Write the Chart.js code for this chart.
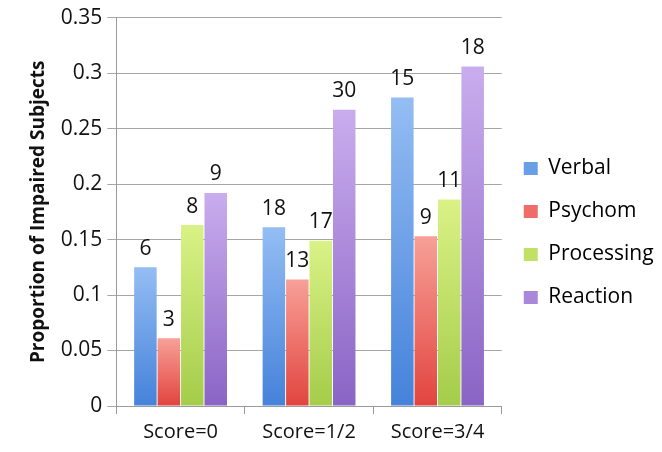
<!DOCTYPE html>
<html>
<head>
<meta charset="utf-8">
<script src="https://cdn.jsdelivr.net/npm/chart.js@4/dist/chart.umd.min.js"></script>
<style>
html,body{margin:0;padding:0;background:#fff;}
#wrap{width:662px;height:452px;position:relative;}
</style>
</head>
<body>
<div id="wrap"><canvas id="c" width="662" height="452"></canvas></div>
<script>
const categories = ["Score=0", "Score=1/2", "Score=3/4"];
const seriesNames = ["Verbal", "Psychom", "Processing", "Reaction"];
const verbal = [0.125, 0.161, 0.278];
const psychom = [0.061, 0.114, 0.153];
const processing = [0.163, 0.149, 0.186];
const reaction = [0.192, 0.267, 0.306];
const verbalCounts = [6, 18, 15];
const psychomCounts = [3, 13, 9];
const processingCounts = [8, 17, 11];
const reactionCounts = [9, 30, 18];
const yTickValues = [0, 0.05, 0.1, 0.15, 0.2, 0.25, 0.3, 0.35];
const yTickLabels = ["0", "0.05", "0.1", "0.15", "0.2", "0.25", "0.3", "0.35"];
const yTitle = "Proportion of Impaired Subjects";

const colorsTop = ["#94bdf3", "#f7a097", "#d9f286", "#c9adee"];
const colorsBottom = ["#4582da", "#e2443f", "#a5cc4a", "#8a64c5"];
const colorsMid = ["#6a9fe8", "#ee6d68", "#c0e165", "#a988dc"];

const values = [verbal, psychom, processing, reaction];
const counts = [verbalCounts, psychomCounts, processingCounts, reactionCounts];

function barGradient(i) {
  return function(ctx) {
    const chart = ctx.chart;
    const ca = chart.chartArea;
    if (!ca || ctx.type !== 'data' || !chart.scales.y) return colorsMid[i];
    const yTop = chart.scales.y.getPixelForValue(ctx.raw);
    const yBot = chart.scales.y.getPixelForValue(0);
    if (!isFinite(yTop) || !isFinite(yBot) || yBot - yTop < 1) return colorsMid[i];
    const g = chart.ctx.createLinearGradient(0, yTop, 0, yBot);
    g.addColorStop(0, colorsTop[i]);
    g.addColorStop(1, colorsBottom[i]);
    return g;
  };
}

const datasets = seriesNames.map((name, i) => ({
  label: name,
  data: values[i],
  counts: counts[i],
  backgroundColor: barGradient(i),
  borderWidth: 0,
  categoryPercentage: 0.73,
  barPercentage: 0.96
}));

const labelPlugin = {
  id: 'barLabels',
  afterDatasetsDraw(chart) {
    const ctx = chart.ctx;
    ctx.save();
    ctx.font = '21px "Open Sans"';
    ctx.fillStyle = '#111';
    ctx.textAlign = 'center';
    ctx.textBaseline = 'bottom';
    chart.data.datasets.forEach((ds, di) => {
      const meta = chart.getDatasetMeta(di);
      meta.data.forEach((bar, j) => {
        ctx.fillText(String(ds.counts[j]), bar.x, bar.y - 8);
      });
    });
    ctx.restore();
  }
};

new Chart(document.getElementById('c'), {
  type: 'bar',
  data: { labels: categories, datasets: datasets },
  options: {
    responsive: false,
    animation: false,
    layout: { padding: { left: 27, top: 16, right: 2, bottom: 2 } },
    plugins: {
      legend: {
        position: 'right',
        labels: {
          font: { family: '"Open Sans"', size: 21 },
          color: '#111',
          boxWidth: 14,
          boxHeight: 13,
          padding: 22,
          generateLabels(chart) {
            return chart.data.datasets.map((ds, i) => ({
              text: ds.label,
              fillStyle: colorsMid[i],
              strokeStyle: colorsMid[i],
              lineWidth: 0,
              datasetIndex: i,
              hidden: false
            }));
          }
        }
      },
      tooltip: { enabled: false }
    },
    scales: {
      x: {
        grid: { display: true, drawOnChartArea: false, drawTicks: true, tickLength: 8, color: '#9a9a9a', offset: true },
        border: { color: '#9a9a9a' },
        ticks: { font: { family: '"Open Sans"', size: 20 }, color: '#111', padding: 6 }
      },
      y: {
        min: 0,
        max: 0.35,
        afterBuildTicks(axis) {
          axis.ticks = yTickValues.map(v => ({ value: v }));
        },
        grid: { color: '#a6a6a6', tickLength: 9 },
        border: { color: '#9a9a9a' },
        ticks: {
          font: { family: '"Open Sans"', size: 21 },
          color: '#111',
          padding: 5,
          callback(value) {
            const k = yTickValues.findIndex(v => Math.abs(v - value) < 1e-9);
            return k >= 0 ? yTickLabels[k] : '';
          }
        },
        title: {
          display: true,
          text: yTitle,
          font: { family: '"Open Sans"', size: 19, weight: 'bold' },
          color: '#111',
          padding: { top: 0, bottom: 6 }
        }
      }
    }
  },
  plugins: [labelPlugin]
});
</script>
</body>
</html>
